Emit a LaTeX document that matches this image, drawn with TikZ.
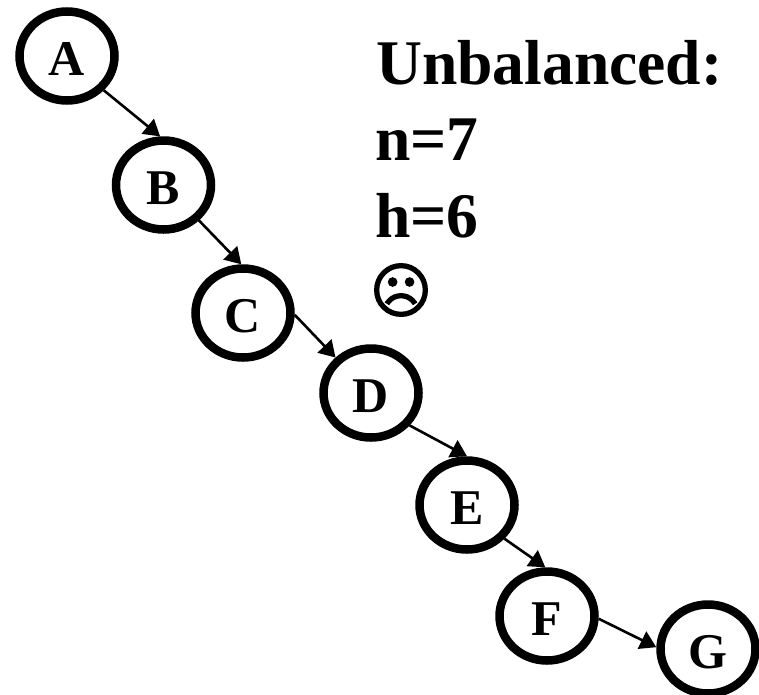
\documentclass[tikz,border=0pt]{standalone}
\usepackage{fontspec}
\setmainfont{Liberation Serif}
\newfontfamily\symfont[FakeBold=2.2]{DejaVu Sans}
\usetikzlibrary{shapes.geometric,arrows.meta}
\tikzset{
  vertex/.style={ellipse,draw=black,line width=8.5pt,minimum width=95pt,minimum height=89pt,inner sep=0pt,
    text height=38.5pt,text depth=0pt,font=\fontsize{50}{50}\selectfont\bfseries},
  edgeline/.style={line width=2.6pt,-{Triangle[length=16pt,width=19pt]}},
  heading/.style={anchor=base west,inner sep=0pt,font=\fontsize{63.6}{64}\selectfont\bfseries}
}
\begin{document}
\begin{tikzpicture}[x=1pt,y=-1pt]
\useasboundingbox (0,0) rectangle (759,694);
\node[vertex] (A) at (67,56) {A};
\node[vertex] (B) at (163.5,185) {B};
\node[vertex] (C) at (243,313) {C};
\node[vertex] (D) at (371,393) {D};
\node[vertex] (E) at (467,505) {E};
\node[vertex] (F) at (547,616) {F};
\node[vertex] (G) at (708,649) {G};
\draw[edgeline] (A.-43) -- (B.94);
\draw[edgeline] (B.-45) -- (C.92);
\draw[edgeline] (C.-2) -- (D.135);
\draw[edgeline] (D.-40) -- (E.90);
\draw[edgeline] (E.-42) -- (F.92);
\draw[edgeline] (F.-3) -- (G.178);
\node[heading] (t1) at (376,84) {Unbalanced:};
\node[heading] (t2) at (375,160) {n=7};
\node[heading] (t3) at (375,237) {h=6};
\node[anchor=center,inner sep=0pt,font=\symfont\fontsize{60}{60}\selectfont] (t4) at (401,290) {☹};
\end{tikzpicture}
\end{document}
